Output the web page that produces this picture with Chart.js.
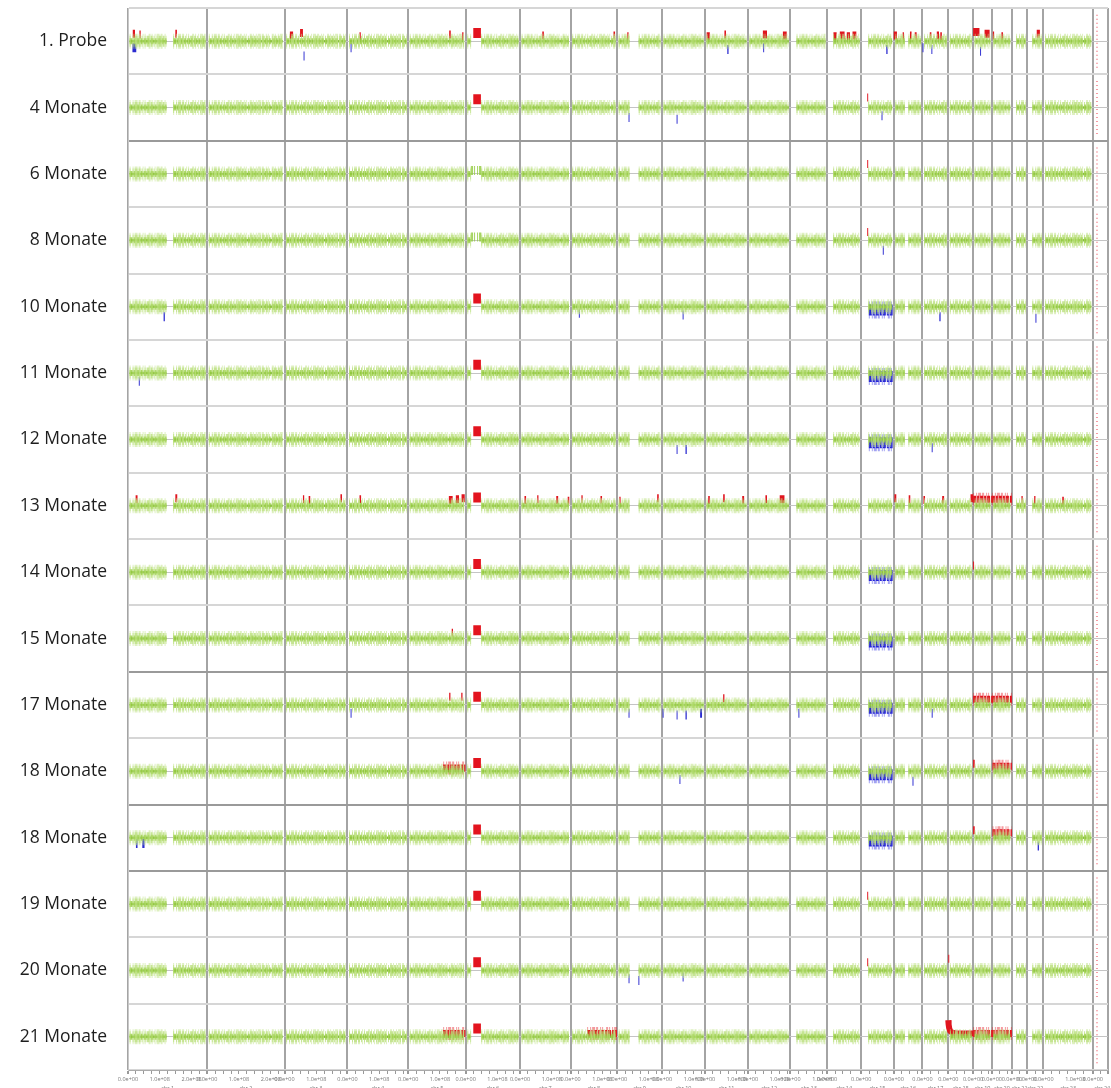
<!DOCTYPE html>
<html><head><meta charset="utf-8">
<script src="https://cdn.jsdelivr.net/npm/chart.js@4.4.1/dist/chart.umd.min.js"></script>
<style>html,body{margin:0;padding:0;background:#fff;}canvas{display:block;}</style>
</head><body>
<canvas id="c" width="1111" height="1088" style="width:1111px;height:1088px"></canvas>
<script>
// ---------------- data ----------------
const samples = ['1. Probe','4 Monate','6 Monate','8 Monate','10 Monate','11 Monate','12 Monate','13 Monate',
  '14 Monate','15 Monate','17 Monate','18 Monate','18 Monate','19 Monate','20 Monate','21 Monate'];
const chromosomes = ['chr 1','chr 2','chr 3','chr 4','chr 5','chr 6','chr 7','chr 8','chr 9','chr 10','chr 11','chr 12',
  'chr 13','chr 14','chr 15','chr 16','chr 17','chr 18','chr 19','chr 20','chr 21','chr 22','chr 23','chr 24'];
const chromLengthsMb = [249.3,243.2,198.0,191.2,180.9,171.1,159.1,146.4,141.2,135.5,135.0,133.9,
  115.2,107.3,102.5,90.4,81.2,78.1,59.1,63.0,48.1,51.3,155.3,59.4];
const axisEndMb = 3084;
const axisLabelMb = [0, 100, 200];
const minorTickMb = 25;
// regions without probes: [chrom, startMb, endMb]
const noDataGaps = [[1,121,142],[6,17,49],[9,39,68],[13,0,19],[14,0,19],[15,0,22],[16,35,46],[21,0,13],[22,0,16]];
// log2-ratio levels of aberrations: [sample, chrom, startMb, endMb, level]
const gainSpikes = [
  [0,1,15,22,0.45],[0,1,36,40,0.4],[0,1,149,154,0.45],[0,3,17,27,0.35],[0,3,49,58,0.5],[0,4,38,42,0.3],
  [0,5,129,134,0.4],[0,5,170,174,0.3],[0,7,70,75,0.35],[0,8,135,140,0.35],[0,9,32,36,0.3],[0,11,5,15,0.3],
  [0,11,61,66,0.4],[0,12,47,60,0.4],[0,12,110,122,0.35],[0,14,20,30,0.3],[0,14,40,55,0.35],[0,14,62,72,0.3],
  [0,14,80,92,0.35],[0,16,0,10,0.35],[0,16,28,32,0.3],[0,16,51,56,0.35],[0,16,66,72,0.3],[0,17,23,28,0.3],
  [0,17,45,52,0.35],[0,17,56,61,0.3],[0,19,0,20,0.55],[0,19,36,52,0.45],[0,20,3,7,0.35],[0,20,30,35,0.3],
  [0,22,30,40,0.45],
  [1,15,19,22,0.6],[2,15,19,22,0.6],[3,15,19,22,0.5],
  [7,1,24,30,0.4],[7,1,149,155,0.45],[7,3,58,62,0.4],[7,3,76,81,0.35],[7,3,176,181,0.45],[7,4,38,43,0.4],
  [7,5,128,140,0.35],[7,5,150,160,0.4],[7,5,168,178,0.45],[7,7,14,19,0.35],[7,7,54,58,0.4],[7,7,114,120,0.35],
  [7,7,150,155,0.3],[7,8,34,38,0.4],[7,8,94,99,0.35],[7,9,7,11,0.3],[7,9,126,131,0.45],[7,11,10,15,0.35],
  [7,11,57,62,0.45],[7,11,117,123,0.35],[7,12,55,60,0.4],[7,12,100,115,0.4],[7,16,2,8,0.45],[7,16,47,52,0.4],
  [7,17,3,8,0.35],[7,17,62,68,0.35],[7,18,70,78,0.45],[7,21,30,34,0.35],[7,22,22,26,0.35],[7,23,59,64,0.3],
  [8,19,0,3,0.4],[9,5,137,141,0.35],
  [10,5,129,133,0.5],[10,5,167,171,0.5],[10,11,57,61,0.4],
  [11,19,0,5,0.45],[12,19,0,5,0.45],[13,15,19,22,0.5],
  [14,18,0,3,0.7],[14,15,19,22,0.5]
];
const gainBlocks = [
  [7,19,0,59,0.4],[7,20,0,63,0.4],
  [10,19,0,59,0.35],[10,20,0,63,0.35],
  [11,5,110,180,0.2],[11,20,2,63,0.3],
  [12,20,2,63,0.3],
  [15,5,110,180,0.2],[15,8,52,146,0.2],[15,19,0,59,0.2],[15,20,0,63,0.2]
];
const hlaGain = [6, 24, 48, 0.5];
const hlaGainSamples = [0,1,4,5,6,7,8,9,10,11,12,13,14,15];
const hlaNeutralBump = [[2,6,17,49,0.2],[3,6,17,49,0.2]];
const chr18ProfileSample = 15;
const chr18Profile = [[0,1.0],[1,0.75],[3,0.5],[6,0.35],[12,0.25],[25,0.2],[78,0.2]];
const lossSpikes = [
  [0,1,14,26,-0.4],[0,3,60,63,-0.9],[0,4,10,13,-0.4],[0,11,70,74,-0.5],[0,12,48,51,-0.4],[0,15,79,83,-0.5],
  [0,17,0,3,-0.4],[0,17,28,31,-0.5],[0,19,22,25,-0.6],
  [1,9,36,39,-0.6],[1,10,46,49,-0.7],[1,15,64,67,-0.5],
  [3,15,68,71,-0.6],
  [4,1,112,116,-0.6],[4,8,26,29,-0.4],[4,10,65,68,-0.5],[4,17,53,57,-0.6],[4,22,26,29,-0.7],
  [5,1,34,37,-0.5],
  [6,10,46,49,-0.6],[6,10,74,78,-0.6],[6,17,29,32,-0.5],
  [10,4,10,13,-0.5],[10,9,36,39,-0.5],[10,10,2,5,-0.5],[10,10,46,49,-0.6],[10,10,74,78,-0.6],[10,10,120,126,-0.5],
  [10,13,25,28,-0.5],[10,17,29,32,-0.5],
  [11,10,55,58,-0.5],[11,16,59,62,-0.6],
  [12,1,25,30,-0.35],[12,1,45,52,-0.35],[12,22,33,37,-0.5],
  [14,9,36,39,-0.5],[14,9,67,70,-0.6],[14,10,65,68,-0.4]
];
const chr15Loss = [15, 24, 99, -0.2];
const chr15LossSamples = [4,5,6,8,9,10,11,12];
const chrYSignal = [24, 13, -1.6, 1.6];

// ---------------- build ----------------
const TRACK = 4;
const chromStarts = [];
chromLengthsMb.reduce((acc, l) => { chromStarts.push(acc); return acc + l; }, 0);
const base = i => -TRACK * i;
const pos = (c, m) => chromStarts[c - 1] + m;

function segPts(list) {
  const pts = [];
  list.forEach(([i, c, a, b, lv]) => {
    pts.push({x: pos(c, a), y: base(i) + lv}, {x: pos(c, b), y: base(i) + lv}, {x: pos(c, b), y: null});
  });
  return pts;
}
const greenPts = [];
samples.forEach((s, i) => {
  chromLengthsMb.forEach((len, k) => {
    const c = k + 1;
    if (c === 24) return;
    let pieces = [[0, len]];
    noDataGaps.filter(g => g[0] === c).forEach(g => {
      pieces = pieces.flatMap(([a, b]) => {
        if (g[2] <= a || g[1] >= b) return [[a, b]];
        const r = [];
        if (g[1] > a) r.push([a, g[1]]);
        if (g[2] < b) r.push([g[2], b]);
        return r;
      });
    });
    pieces.forEach(([a, b]) => {
      const a2 = a === 0 ? 5 : a, b2 = b === len ? len - 5 : b;
      greenPts.push({x: pos(c, a2), y: base(i)}, {x: pos(c, b2), y: base(i)}, {x: pos(c, b2), y: null});
    });
  });
});
const bumpPts = segPts(hlaNeutralBump);
const hlaPts = segPts(hlaGainSamples.map(i => [i, ...hlaGain]));
const gainSpikePts = segPts(gainSpikes);
const gainBlockPts = segPts(gainBlocks);
const profilePts = chr18Profile.map(([m, lv]) => ({x: pos(18, m), y: base(chr18ProfileSample) + lv}));
const lossSpikePts = segPts(lossSpikes);
const lossBlockPts = segPts(chr15LossSamples.map(i => [i, ...chr15Loss]));
const yPts = [];
samples.forEach((s, i) => {
  yPts.push({x: pos(chrYSignal[0], chrYSignal[1]), y: base(i) + chrYSignal[3]},
            {x: pos(chrYSignal[0], chrYSignal[1]), y: base(i) + chrYSignal[2]},
            {x: pos(chrYSignal[0], chrYSignal[1]), y: null});
});

const lineDs = (data, color, width, dash, offset) => ({
  data, borderColor: color, borderWidth: width, borderDash: dash || [], borderDashOffset: offset || 0,
  pointRadius: 0, tension: 0, spanGaps: false, fill: false, borderCapStyle: 'butt', xAxisID: 'x', yAxisID: 'y'
});

const darkSeparators = [2, 10, 12, 13];
const noiseA = [1, 2, 1, 1, 3, 1, 2, 2, 1, 1, 1, 3, 2, 1];
const noiseB = [2, 1, 1, 2, 1, 1, 3, 1];

// x-axis ticks: chromosome boundaries, minor marks, and chromosome-name ticks at centres
const xTicks = [];
chromStarts.forEach((st, k) => {
  for (let m = 0; m < chromLengthsMb[k] - 8 && st + m < axisEndMb; m += minorTickMb) {
    xTicks.push({value: st + m, local: m, boundary: m === 0});
  }
  const mid = st + chromLengthsMb[k] / 2;
  if (mid < axisEndMb) xTicks.push({value: mid, local: -2, chrom: k});
});
xTicks.push({value: axisEndMb, local: -1, boundary: true});
xTicks.sort((a, b) => a.value - b.value);

new Chart(document.getElementById('c'), {
  type: 'line',
  data: {
    datasets: [
      lineDs(greenPts, 'rgba(195,228,140,0.55)', 15, noiseA),
      lineDs(greenPts, 'rgba(170,216,95,0.65)', 11, noiseB, 3),
      lineDs(greenPts, 'rgba(150,204,66,0.8)', 6, [3, 1, 2, 1]),
      lineDs(bumpPts, 'rgba(150,205,70,0.85)', 9, noiseB),
      lineDs(greenPts, 'rgba(122,182,40,0.85)', 2.5),
      lineDs(yPts, 'rgba(240,120,130,0.75)', 2, [1, 3]),
      lineDs(lossBlockPts, 'rgba(50,50,225,0.45)', 17, noiseA),
      lineDs(lossBlockPts, '#2424d6', 11, [3, 1, 2, 1]),
      lineDs(lossSpikePts, '#2b2bd0', 9),
      lineDs(gainBlockPts, 'rgba(230,30,40,0.45)', 13, noiseA),
      lineDs(gainBlockPts, '#e0141e', 7, [3, 1, 2, 1]),
      lineDs(profilePts, '#e0141e', 6),
      lineDs(hlaPts, '#e3141e', 10),
      lineDs(gainSpikePts, '#e0141e', 8)
    ]
  },
  options: {
    responsive: false, animation: false, events: [],
    layout: {padding: {left: 0, right: 3, top: 8, bottom: 0}},
    plugins: {legend: {display: false}, tooltip: {enabled: false}},
    scales: {
      x: {
        type: 'linear', min: 0, max: axisEndMb, position: 'bottom',
        afterBuildTicks: s => { s.ticks = xTicks.map(t => ({...t})); },
        afterFit: s => { s.height = 18; s.paddingLeft = 0; s.paddingRight = 0; },
        ticks: {
          autoSkip: false, maxRotation: 0, minRotation: 0, padding: 1, color: '#777',
          font: {family: 'Open Sans', size: 5.5, lineHeight: 1.6},
          callback: (v, i, ticks) => {
            const t = ticks[i];
            if (t.local === -2) return ['', chromosomes[t.chrom]];
            if (!axisLabelMb.includes(t.local)) return '';
            return t.local === 0 ? '0.0e+00' : (t.local / 100).toFixed(1) + 'e+08';
          }
        },
        grid: {
          color: c => (c.tick && c.tick.boundary) ? '#a4a4a4' : 'rgba(0,0,0,0)',
          lineWidth: c => (c.tick && c.tick.boundary) ? 2 : 1,
          tickColor: c => (c.tick && c.tick.local === -2) ? 'rgba(0,0,0,0)' : '#999',
          tickLength: 4, drawTicks: true
        },
        border: {display: true, color: '#aaa', width: 1}
      },
      y: {
        type: 'linear', min: base(samples.length - 1) - TRACK / 2, max: TRACK / 2,
        afterBuildTicks: s => {
          const t = [];
          for (let i = 0; i <= samples.length; i++) t.push({value: TRACK / 2 - TRACK * i, kind: 'sep', idx: i});
          for (let i = 0; i < samples.length; i++) t.push({value: base(i), kind: 'base', idx: i});
          s.ticks = t;
        },
        afterFit: s => { s.width = 128; s.paddingTop = 0; s.paddingBottom = 0; },
        ticks: {
          autoSkip: false, padding: 21, color: '#1e1e1e',
          font: {family: 'Open Sans', size: 17.5},
          callback: (v, i, ticks) => ticks[i].kind === 'base' ? samples[ticks[i].idx] : ''
        },
        grid: {
          drawTicks: false,
          color: c => {
            const t = c.tick; if (!t) return '#ddd';
            if (t.kind === 'base') return '#c4c4c4';
            return darkSeparators.includes(t.idx) ? '#9a9a9a' : '#d6d6d6';
          },
          lineWidth: c => (c.tick && c.tick.kind === 'base') ? 1 : 2
        },
        border: {display: true, color: '#c8c8c8', width: 1}
      }
    }
  }
});
</script>
</body></html>
